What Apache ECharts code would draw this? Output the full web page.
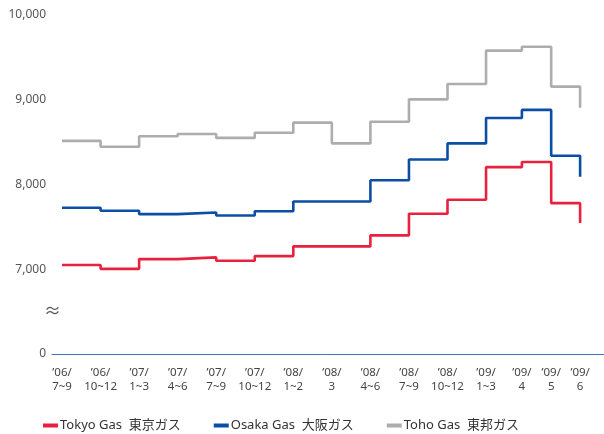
<!DOCTYPE html>
<html><head><meta charset="utf-8">
<script src="https://cdn.jsdelivr.net/npm/echarts@6/dist/echarts.min.js"></script>
<style>html,body{margin:0;padding:0;background:#fff}#c{width:604px;height:434px}</style>
</head><body><div id="c"></div>
<script>
// Period labels (two lines each) and their positions along the x axis (period index units)
const periodLabels = ["’06/\n7~9","’06/\n10~12","’07/\n1~3","’07/\n4~6","’07/\n7~9","’07/\n10~12","’08/\n1~2","’08/\n3","’08/\n4~6","’08/\n7~9","’08/\n10~12","’09/\n1~3","’09/\n4","’09/\n5","’09/\n6"];
const periodX = [0,1,2,3,4,5,6,7,8,9,10,11,11.93,12.69,13.44];
const tokyoGas = [7050,7005,7120,7140,7100,7155,7270,7270,7400,7655,7820,8205,8265,7780,7545];
const osakaGas = [7725,7690,7650,7670,7635,7685,7800,7800,8050,8295,8485,8785,8880,8340,8090];
const tohoGas  = [8515,8445,8570,8595,8550,8610,8730,8485,8740,9005,9185,9580,9625,9155,8905];
const seriesNames = ["Tokyo Gas  東京ガス","Osaka Gas  大阪ガス","Toho Gas  東邦ガス"];
const yTicks = [6000,7000,8000,9000,10000];
const yTickLabels = ["0","7,000","8,000","9,000","10,000"];

const colors = ['#e8213e','#0c4ea3','#adadaf'];
const font = '"Noto Sans","Noto Sans CJK JP",sans-serif';
const toPts = arr => arr.map((v,i)=>[periodX[i],v]);

const chart = echarts.init(document.getElementById('c'));
chart.setOption({
  animation:false,
  textStyle:{fontFamily:font},
  grid:{left:52,right:0,top:15,bottom:80},
  legend:{
    left:43, bottom:2, padding:0, itemWidth:15, itemHeight:4, itemGap:33, icon:'rect',
    textStyle:{fontSize:13,color:'#333',fontFamily:font,padding:[0,0,0,-3]},
    data:seriesNames
  },
  xAxis:{
    type:'value', min:-0.26, max:14.06,
    splitLine:{show:false},
    axisTick:{show:false},
    axisLine:{show:true,onZero:false,lineStyle:{color:'#3a76c2',width:1}},
    axisLabel:{
      customValues:periodX, hideOverlap:false,
      fontSize:11.5, color:'#444', lineHeight:14, margin:12,
      formatter:function(v){
        let best=0,bd=1e9;
        periodX.forEach((p,i)=>{const d=Math.abs(p-v); if(d<bd){bd=d;best=i;}});
        return periodLabels[best];
      }
    }
  },
  yAxis:{
    type:'value', min:yTicks[0], max:yTicks[yTicks.length-1], interval:1000,
    splitLine:{show:false}, axisLine:{show:false}, axisTick:{show:false},
    axisLabel:{fontSize:12,color:'#555',margin:6,
      formatter:function(v){const i=yTicks.indexOf(v);return i>=0?yTickLabels[i]:'';}}
  },
  graphic:[{type:'text',left:44,top:304,style:{text:'≈',fontSize:17,fill:'#555',fontFamily:font}}],
  series:[tokyoGas,osakaGas,tohoGas].map((d,i)=>({
    name:seriesNames[i], type:'line', step:'end', data:toPts(d),
    showSymbol:false, color:colors[i],
    lineStyle:{width:2.6,color:colors[i]}
  }))
});
</script></body></html>
